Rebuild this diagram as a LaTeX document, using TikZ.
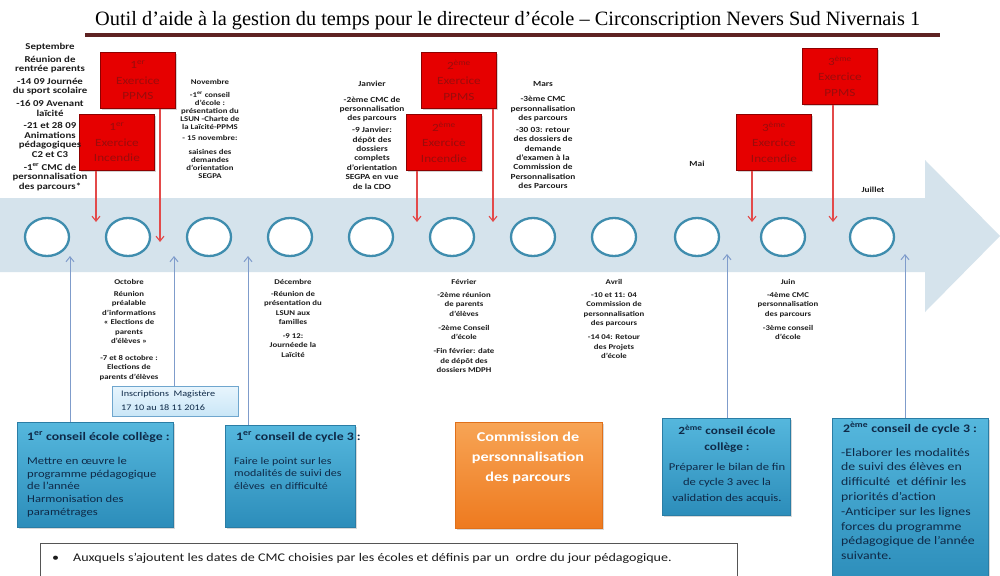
\documentclass[tikz,border=0pt]{standalone}
\usepackage{fontspec}
\setmainfont{Carlito}
\newfontfamily\calf[FakeStretch=1.2]{Carlito}
\newfontfamily\ttlf{Liberation Serif}
\usetikzlibrary{shadows,arrows.meta,shapes.geometric}
\definecolor{band}{HTML}{D5E3EC}
\definecolor{ringc}{HTML}{3F8DAE}
\definecolor{redfill}{HTML}{E60000}
\definecolor{redborder}{HTML}{8E0000}
\definecolor{redtext}{HTML}{9A0C0C}
\definecolor{redline}{HTML}{E34A4A}
\definecolor{blueline}{HTML}{7F9CCB}
\definecolor{tealtop}{HTML}{55B7DD}
\definecolor{tealbot}{HTML}{2C8DBA}
\definecolor{tealborder}{HTML}{2A7DA5}
\definecolor{navy}{HTML}{0F2A48}
\definecolor{orangetop}{HTML}{F7A455}
\definecolor{orangebot}{HTML}{EE7A1F}
\definecolor{orangeborder}{HTML}{E0701A}
\definecolor{titlebar}{HTML}{5E2222}
\definecolor{coltext}{HTML}{1C1C1C}
\definecolor{insctop}{HTML}{E8F5FD}
\definecolor{inscbot}{HTML}{C9E6F7}
\definecolor{inscborder}{HTML}{6FA6CE}
\definecolor{notegray}{HTML}{555555}
\newcommand\colf{\calf\bfseries\fontsize{7.8}{9.4}\selectfont}
\newcommand\colbf{\calf\bfseries\fontsize{7.3}{9.5}\selectfont}
\begin{document}
\begin{tikzpicture}[x=1pt,y=-1pt,
  ringnode/.style={ellipse,draw=ringc,line width=2.3pt,fill=white,minimum width=44pt,minimum height=38pt,inner sep=0pt},
  redbox/.style={rectangle,draw=redborder,line width=0.8pt,fill=redfill,text=redtext,minimum width=75pt,minimum height=56pt,align=center,inner sep=0pt,anchor=north west,font=\calf\fontsize{11}{15.5}\selectfont,drop shadow={opacity=0.35,shadow xshift=1.5pt,shadow yshift=-1.5pt}},
  colnode/.style={align=center,inner sep=0pt,anchor=north,text=coltext,font=\colf},
  tealbox/.style={rectangle,draw=tealborder,line width=0.6pt,top color=tealtop,bottom color=tealbot,anchor=north west,inner sep=0pt,drop shadow={opacity=0.3,shadow xshift=2pt,shadow yshift=-2pt}},
  orangebox/.style={rectangle,draw=orangeborder,line width=0.6pt,top color=orangetop,bottom color=orangebot,anchor=north west,inner sep=0pt,drop shadow={opacity=0.3,shadow xshift=2pt,shadow yshift=-2pt}},
  inscbox/.style={rectangle,draw=inscborder,line width=0.7pt,top color=insctop,bottom color=inscbot,anchor=north west,inner sep=0pt},
  ttext/.style={text=navy,inner sep=0pt},
  redarr/.style={draw=redline,line width=1.1pt,-{Straight Barb[length=5pt,width=8pt]}},
  bluearr/.style={draw=blueline,line width=1pt,-{Straight Barb[length=5pt,width=8pt]}}
]
\useasboundingbox (0,0) rectangle (1000,575);
\fill[white] (0,0) rectangle (1000,575);

% title
\node[anchor=base west,inner sep=0pt] (title) at (95,26) {\resizebox{825pt}{!}{\ttlf\fontsize{17}{17}\selectfont Outil d’aide à la gestion du temps pour le directeur d’école – Circonscription Nevers Sud Nivernais 1}};
\fill[titlebar] (85,33) rectangle (940,37);

% timeline arrow
\fill[band] (0,198) -- (925,198) -- (925,160) -- (1000,236) -- (925,312) -- (925,272) -- (0,272) -- cycle;

% circles
\foreach \i/\x in {1/47,2/128,3/209,4/290,5/371,6/452,7/533,8/614,9/697,10/783,11/872}
  \node[ringnode] (c\i) at (\x,237) {};

% red boxes
\node[redbox] (ppms1) at (100,52) {1\textsuperscript{er}\\Exercice\\PPMS};
\node[redbox] (inc1) at (79,114) {1\textsuperscript{er}\\Exercice\\Incendie};
\node[redbox] (ppms2) at (421,52) {2\textsuperscript{ème}\\Exercice\\PPMS};
\node[redbox] (inc2) at (406,114) {2\textsuperscript{ème}\\Exercice\\Incendie};
\node[redbox] (ppms3) at (802,48) {3\textsuperscript{ème}\\Exercice\\PPMS};
\node[redbox] (inc3) at (736,114) {3\textsuperscript{ème}\\Exercice\\Incendie};

\coordinate (r1) at (96,222);
\coordinate (r2) at (160,242);
\coordinate (r3) at (417,222);
\coordinate (r4) at (493,222);
\coordinate (r5) at (752,222);
\coordinate (r6) at (833,222);
\draw[redarr] (r1 |- inc1.south) -- (r1);
\draw[redarr] (r2 |- ppms1.south) -- (r2);
\draw[redarr] (r3 |- inc2.south) -- (r3);
\draw[redarr] (r4 |- ppms2.south) -- (r4);
\draw[redarr] (r5 |- inc3.south) -- (r5);
\draw[redarr] (r6 |- ppms3.south) -- (r6);

% top month columns
\node[colnode,font=\calf\bfseries\fontsize{9}{9.6}\selectfont] (sep) at (50,43) {Septembre\\[3pt]
Réunion de\\rentrée parents\\[3pt]
-14 09 Journée\\du sport scolaire\\[3pt]
-16 09 Avenant\\laïcité\\[3pt]
-21 et 28 09\\Animations\\pédagogiques\\C2 et C3\\[3pt]
-1\textsuperscript{er} CMC de\\personnalisation\\des parcours*};

\node[colnode,font=\calf\bfseries\fontsize{7.3}{8}\selectfont] (nov) at (210,79) {Novembre\\[5.5pt]
-1\textsuperscript{er} conseil\\d’école :\\présentation du\\LSUN -Charte de\\la Laïcité-PPMS\\[2.5pt]
- 15 novembre:\\[6pt]
saisines des\\demandes\\d’orientation\\SEGPA};

\node[colnode] (jan) at (372,81) {Janvier\\[6pt]
-2ème CMC de\\personnalisation\\des parcours\\[2.5pt]
-9 Janvier:\\dépôt des\\dossiers\\complets\\d’orientation\\SEGPA en vue\\de la CDO};

\node[colnode] (mar) at (543,81) {Mars\\[6pt]
-3ème CMC\\personnalisation\\des parcours\\[2.5pt]
-30 03: retour\\des dossiers de\\demande\\d’examen à la\\Commission de\\Personnalisation\\des Parcours};

\node[colnode,anchor=base] (mai) at (697,166) {Mai};
\node[colnode,anchor=base] (jui) at (873,192) {Juillet};

% bottom month columns
\node[colnode,font=\colbf] (oct) at (129,279) {Octobre\\[2.5pt]
Réunion\\préalable\\d’informations\\« Elections de\\parents\\d’élèves »\\[7pt]
-7 et 8 octobre :\\Elections de\\parents d’élèves};

\node[colnode,font=\colbf] (dec) at (293,279) {Décembre\\[2.5pt]
-Réunion de\\présentation du\\LSUN aux\\familles\\[4pt]
-9 12:\\Journéede la\\Laïcité};

\node[colnode,font=\colbf] (fev) at (464,279) {Février\\[3.5pt]
-2ème réunion\\de parents\\d’élèves\\[4.5pt]
-2ème Conseil\\d’école\\[4.5pt]
-Fin février: date\\de dépôt des\\dossiers MDPH};

\node[colnode,font=\colbf] (avr) at (614,279) {Avril\\[3.5pt]
-10 et 11: 04\\Commission de\\personnalisation\\des parcours\\[4.5pt]
-14 04: Retour\\des Projets\\d’école};

\node[colnode,font=\colbf] (jun) at (788,279) {Juin\\[3.5pt]
-4ème CMC\\personnalisation\\des parcours\\[4.5pt]
-3ème conseil\\d’école};

% bottom boxes
\node[inscbox,minimum width=126pt,minimum height=30pt] (insc) at (112,386) {};
\node[ttext,anchor=north west,align=left,font=\calf\fontsize{8.5}{14}\selectfont,text=navy] (insct) at (121,390) {Inscriptions\ \ Magistère\\17 10 au 18 11 2016};

\node[tealbox,minimum width=156pt,minimum height=105pt] (cec1) at (17,422) {};
\node[ttext,anchor=base west,font=\calf\bfseries\fontsize{11.5}{12}\selectfont] (cec1t) at (27,440) {1\textsuperscript{er} conseil école collège :};
\node[ttext,anchor=north west,align=left,font=\calf\fontsize{10.5}{12.7}\selectfont] (cec1b) at (27,457) {Mettre en œuvre le\\programme pédagogique\\de l’année\\Harmonisation des\\paramétrages};

\node[tealbox,minimum width=130pt,minimum height=102pt] (cc31) at (225,425) {};
\node[ttext,anchor=base west,font=\calf\bfseries\fontsize{11.5}{12}\selectfont] (cc31t) at (236,440) {1\textsuperscript{er} conseil de cycle 3 :};
\node[ttext,anchor=north west,align=left,font=\calf\fontsize{10}{12.7}\selectfont] (cc31b) at (234,457) {Faire le point sur les\\modalités de suivi des\\élèves\ \ en difficulté};

\node[orangebox,minimum width=147pt,minimum height=106pt] (cpp) at (455,422) {};
\node[anchor=north,align=center,inner sep=0pt,text=white,font=\calf\bfseries\fontsize{13.5}{20}\selectfont] (cppt) at (528,432) {Commission de\\personnalisation\\des parcours};

\node[tealbox,minimum width=128pt,minimum height=97pt] (cec2) at (662,418) {};
\node[ttext,anchor=north,align=center,font=\calf\bfseries\fontsize{11}{16.5}\selectfont] (cec2t) at (727,425) {2\textsuperscript{ème} conseil école\\collège :};
\node[ttext,anchor=north,align=center,font=\calf\fontsize{10.5}{15.5}\selectfont] (cec2b) at (727,463) {Préparer le bilan de fin\\de cycle 3 avec la\\validation des acquis.};

\node[tealbox,minimum width=156pt,minimum height=165pt] (cc32) at (832,418) {};
\node[ttext,anchor=base,font=\calf\bfseries\fontsize{11.5}{12}\selectfont] (cc32t) at (910,432) {2\textsuperscript{ème} conseil de cycle 3 :};
\node[ttext,anchor=north west,align=left,font=\calf\fontsize{11.5}{14.8}\selectfont] (cc32b) at (841,448) {-Elaborer les modalités\\de suivi des élèves en\\difficulté\ \ et définir les\\priorités d’action\\-Anticiper sur les lignes\\forces du programme\\pédagogique de l’année\\suivante.};

% blue connectors
\coordinate (b1) at (70,256);
\coordinate (b2) at (174,256);
\coordinate (b3) at (248,256);
\coordinate (b4) at (727,254);
\coordinate (b5) at (905,254);
\draw[bluearr] (b1 |- cec1.north) -- (b1);
\draw[bluearr] (b2 |- insc.north) -- (b2);
\draw[bluearr] (b3 |- cc31.north) -- (b3);
\draw[bluearr] (b4 |- cec2.north) -- (b4);
\draw[bluearr] (b5 |- cc32.north) -- (b5);

% note
\node[draw=notegray,line width=0.9pt,fill=white,anchor=north west,minimum width=697pt,minimum height=45pt,inner sep=0pt] (note) at (40,543) {};
\node[anchor=base west,inner sep=0pt,font=\calf\fontsize{11.7}{12}\selectfont,text=coltext] (notet) at (52,561) {\textbullet\hspace{14pt}Auxquels s’ajoutent les dates de CMC choisies par les écoles et définis par un\ \ ordre du jour pédagogique.};
\end{tikzpicture}
\end{document}
